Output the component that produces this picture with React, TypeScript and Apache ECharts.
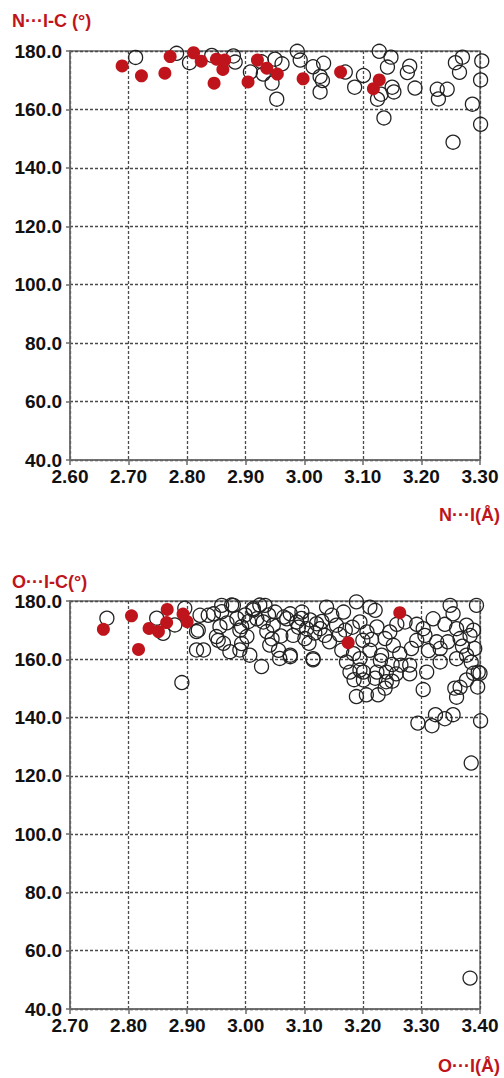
import React, { useEffect, useRef } from "react";
import * as echarts from "echarts";

// ---- Chart 1: N···I-C angle vs N···I distance ----
const topXTicks = [2.6, 3.3];
const topRed: number[][] = [
  [2.689, 174.9], [2.722, 171.5], [2.762, 172.4], [2.771, 178.1], [2.811, 179.4],
  [2.824, 176.5], [2.846, 169.0], [2.850, 177.2], [2.864, 176.9], [2.861, 173.7],
  [2.904, 169.4], [2.920, 176.9], [2.936, 174.1], [2.954, 172.1], [2.998, 170.5],
  [3.062, 172.8], [3.118, 167.1], [3.128, 170.1],
];
const topOpen: number[][] = [
  [2.712, 177.8], [2.782, 179.2], [2.804, 176.0], [2.842, 178.5], [2.879, 178.3],
  [2.882, 176.2], [2.908, 172.8], [2.927, 176.3], [2.930, 172.1], [2.945, 169.0],
  [2.950, 177.2], [2.962, 175.6], [2.953, 163.5], [2.988, 179.9], [2.993, 176.9],
  [3.015, 174.6], [3.027, 171.3], [3.031, 169.9], [3.033, 175.8], [3.027, 166.0],
  [3.070, 172.8], [3.086, 167.6], [3.101, 171.6], [3.128, 179.9], [3.148, 177.9],
  [3.142, 174.5], [3.125, 163.5], [3.131, 165.2], [3.150, 167.6], [3.153, 166.0],
  [3.136, 157.1], [3.176, 172.6], [3.180, 174.8], [3.189, 167.3], [3.227, 166.9],
  [3.229, 163.6], [3.244, 166.9], [3.258, 176.0], [3.265, 172.7], [3.270, 177.9],
  [3.287, 161.8], [3.303, 176.6], [3.301, 170.1], [3.301, 154.9], [3.254, 148.8],
];

// ---- Chart 2: O···I-C angle vs O···I distance ----
const bottomXTicks = [2.7, 3.4];
const bottomRed: number[][] = [
  [2.757, 170.3], [2.805, 174.9], [2.817, 163.4], [2.835, 170.6], [2.851, 169.5],
  [2.865, 172.6], [2.866, 177.1], [2.893, 175.5], [2.900, 172.9], [3.175, 165.7],
  [3.263, 176.0],
];
const bottomOpen: number[][] = [
  [2.763, 174.1], [2.848, 174.1], [2.859, 168.9], [2.879, 171.8], [2.896, 177.5],
  [2.891, 152.0], [2.916, 169.5], [2.916, 163.2], [2.928, 163.2], [2.922, 175.1],
  [2.936, 175.1], [2.945, 175.6], [2.950, 167.8], [2.956, 171.2], [2.962, 165.5],
  [2.959, 176.3], [2.959, 178.5], [2.976, 178.6], [2.973, 162.6], [2.990, 163.2],
  [2.993, 171.2], [3.002, 167.8], [2.999, 175.2], [3.013, 176.9], [3.024, 178.6],
  [3.027, 157.5], [3.036, 169.5], [3.041, 164.9], [3.039, 175.2], [2.919, 170.0],
  [2.953, 166.5], [2.979, 178.5], [2.990, 170.0], [2.993, 165.4], [3.007, 161.4],
  [3.013, 177.4], [3.019, 173.9], [3.033, 178.5], [3.047, 171.7], [3.056, 163.1],
  [3.050, 176.2], [3.070, 173.9], [3.076, 175.6], [3.081, 168.2], [3.087, 172.8],
  [3.096, 176.2], [3.076, 161.4], [3.104, 170.5], [3.101, 167.1], [3.115, 160.2],
  [3.121, 172.2], [3.058, 160.3], [3.076, 160.9], [3.138, 177.9], [3.127, 170.5],
  [3.147, 175.1], [3.155, 171.7], [3.167, 176.2], [3.189, 179.7], [3.195, 172.8],
  [3.212, 177.9], [3.221, 176.8], [3.224, 171.1], [3.207, 169.4], [3.164, 163.1],
  [3.184, 161.9], [3.172, 159.1], [3.195, 160.2], [3.212, 163.1], [3.232, 161.4],
  [3.238, 167.1], [3.246, 169.4], [3.252, 164.8], [3.272, 172.8], [3.263, 161.9],
  [3.283, 163.7], [3.280, 158.0], [3.303, 170.5], [3.306, 168.2], [3.320, 173.9],
  [3.326, 166.0], [3.332, 163.7], [3.332, 159.1], [3.349, 178.5], [3.354, 175.6],
  [3.360, 170.5], [3.366, 167.1], [3.377, 171.7], [3.383, 168.2], [3.389, 170.0],
  [3.394, 178.5], [3.391, 163.7], [3.377, 161.4], [3.360, 160.2], [3.397, 155.6],
  [3.224, 155.6], [3.240, 155.6], [3.257, 155.0], [3.201, 155.6], [3.178, 155.6],
  [3.309, 155.6], [3.189, 147.2], [3.206, 147.8], [3.226, 147.8], [3.238, 150.1],
  [3.240, 152.3], [3.221, 153.5], [3.201, 152.9], [3.195, 156.3], [3.303, 149.6],
  [3.294, 138.1], [3.318, 137.2], [3.324, 141.0], [3.340, 139.6], [3.354, 141.0],
  [3.401, 138.9], [3.385, 124.4], [3.360, 147.0], [3.366, 150.4], [3.377, 152.9],
  [3.389, 155.2], [3.396, 150.5], [3.400, 155.2], [3.357, 150.1], [3.383, 50.6],
  [3.115, 159.8], [3.110, 173.5], [3.118, 169.0], [3.135, 168.2], [3.143, 166.0],
  [3.160, 168.5], [3.182, 171.0], [3.200, 166.5], [3.215, 166.8], [3.230, 159.5],
  [3.250, 158.2], [3.265, 158.0], [3.292, 166.5], [3.292, 172.0], [3.312, 163.0],
  [3.340, 172.0], [3.345, 166.0], [3.370, 164.5], [3.385, 159.0], [3.060, 168.0],
  [3.065, 174.5], [3.090, 171.0], [3.185, 153.0], [3.250, 152.5], [3.280, 155.0],
  [2.968, 172.5], [2.985, 174.0], [3.005, 173.0], [3.030, 172.8], [3.045, 167.0],
  [3.095, 174.0], [3.108, 165.5], [3.130, 173.0], [3.170, 170.0], [3.258, 172.0],
];

const yRange = [40, 180];
const yStep = 20;
const xStep = 0.1;

const RED = "#c0141c";
const AXIS = "#6b6b6b";
const FONT = '"Liberation Sans", Arial, sans-serif';

function xAxisCfg(gridIndex: number, ticks: number[]) {
  return {
    gridIndex,
    type: "value",
    min: ticks[0],
    max: ticks[1],
    interval: xStep,
    axisLine: { show: true, onZero: false, lineStyle: { color: AXIS, width: 1.5 } },
    axisTick: { show: true, length: 5, lineStyle: { color: AXIS, width: 1.5 } },
    axisLabel: {
      formatter: (v: number) => v.toFixed(2),
      color: "#111",
      fontWeight: "bold",
      fontSize: 19,
      fontFamily: FONT,
      margin: 7,
    },
    splitLine: { show: true, lineStyle: { color: "#4a4a4a", type: [3, 2], width: 1.3 } },
  };
}

function yAxisCfg(gridIndex: number) {
  return {
    gridIndex,
    type: "value",
    min: yRange[0],
    max: yRange[1],
    interval: yStep,
    axisLine: { show: true, onZero: false, lineStyle: { color: AXIS, width: 1.5 } },
    axisTick: { show: true, length: 4, lineStyle: { color: AXIS, width: 1.5 } },
    axisLabel: {
      formatter: (v: number) => v.toFixed(1),
      color: "#111",
      fontWeight: "bold",
      fontSize: 19,
      fontFamily: FONT,
      margin: 8,
      padding: [6, 0, 0, 0],
    },
    splitLine: { show: true, lineStyle: { color: "#4a4a4a", type: [3, 2], width: 1.3 } },
  };
}

function openSeries(idx: number, data: number[][]) {
  return {
    type: "scatter",
    xAxisIndex: idx,
    yAxisIndex: idx,
    data,
    clip: false,
    symbol: "circle",
    symbolSize: 14,
    itemStyle: { color: "rgba(0,0,0,0)", borderColor: "#222", borderWidth: 1.3, opacity: 1 },
    z: 2,
  };
}

function redSeries(idx: number, data: number[][]) {
  return {
    type: "scatter",
    xAxisIndex: idx,
    yAxisIndex: idx,
    data,
    clip: false,
    symbol: "circle",
    symbolSize: 13,
    itemStyle: { color: RED, borderWidth: 0, opacity: 1 },
    z: 3,
  };
}

export default function App() {
  const ref = useRef<HTMLDivElement>(null);
  useEffect(() => {
    document.body.style.margin = "0";
    const chart = echarts.init(ref.current!, null, { renderer: "svg" });
    const titleStyle = { fill: RED, font: `bold 18px ${FONT}` };
    chart.setOption({
      animation: false,
      backgroundColor: "#ffffff",
      grid: [
        { left: 70, top: 51, width: 410, height: 409, show: true, borderColor: AXIS, borderWidth: 1.5 },
        { left: 70, top: 601, width: 410, height: 408, show: true, borderColor: AXIS, borderWidth: 1.5 },
      ],
      xAxis: [xAxisCfg(0, topXTicks), xAxisCfg(1, bottomXTicks)],
      yAxis: [yAxisCfg(0), yAxisCfg(1)],
      series: [
        openSeries(0, topOpen),
        redSeries(0, topRed),
        openSeries(1, bottomOpen),
        redSeries(1, bottomRed),
      ],
      graphic: [
        { type: "text", x: 12, y: 21, style: { ...titleStyle, text: "N···I-C (°)", verticalAlign: "middle" } },
        { type: "text", x: 500, y: 515, style: { ...titleStyle, text: "N···I(Å)", align: "right", verticalAlign: "middle" } },
        { type: "text", x: 12, y: 582, style: { ...titleStyle, text: "O···I-C(°)", verticalAlign: "middle" } },
        { type: "text", x: 500, y: 1066, style: { ...titleStyle, text: "O···I(Å)", align: "right", verticalAlign: "middle" } },
      ],
    });
    return () => chart.dispose();
  }, []);
  return <div ref={ref} style={{ width: 504, height: 1078 }} />;
}
